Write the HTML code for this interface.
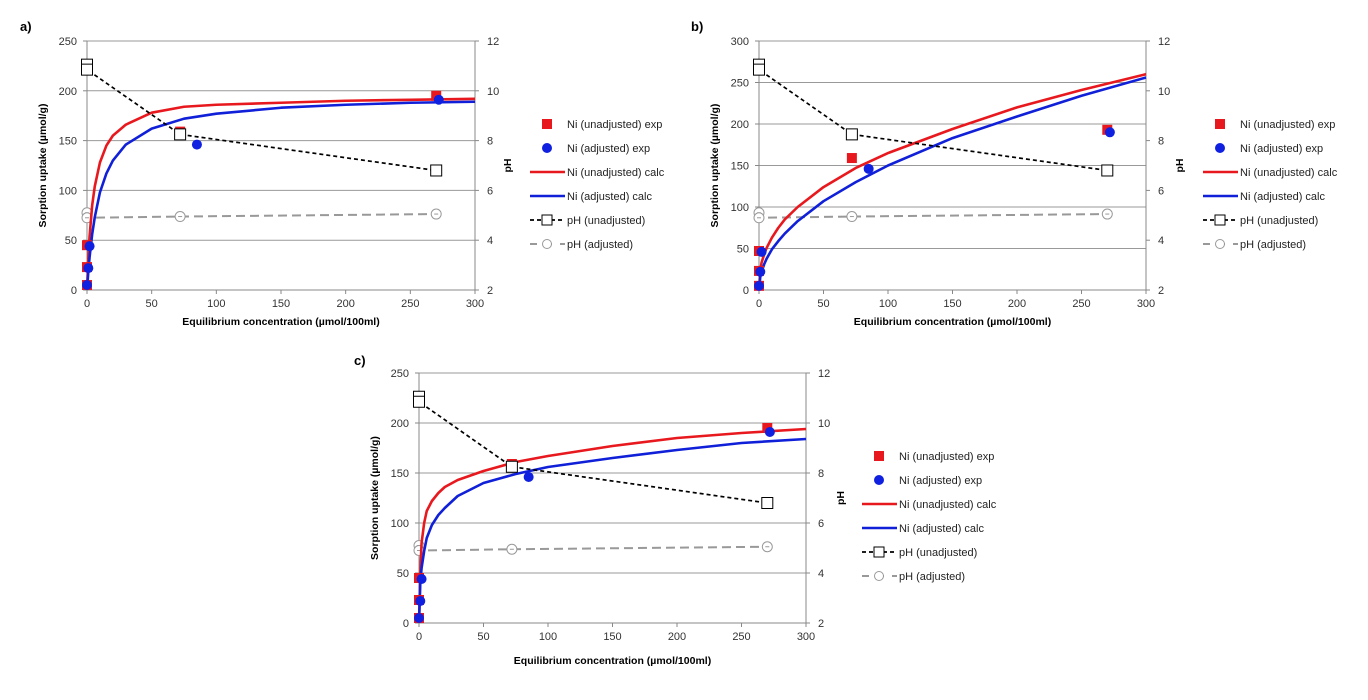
<!DOCTYPE html>
<html><head><meta charset="utf-8"><style>
html,body{margin:0;padding:0;background:#fff;}
svg{display:block;font-family:"Liberation Sans",sans-serif;}
</style></head><body>
<svg id="c" width="1368" height="700" viewBox="0 0 1368 700"></svg>
<script>
// ---- shared experimental data ----
const expUnX = [0, 0, 0, 72, 270];
const expAdX = [0, 1, 2, 85, 272];
const expUnYa = [5, 23, 45, 159, 195];
const expAdYa = [5, 22, 44, 146, 191];
const expUnYb = [5, 23, 47, 159, 193];
const expAdYb = [5, 22, 46, 146, 190];
const phUnX = [0, 0, 72, 270];
const phUnY = [11.05, 10.85, 8.25, 6.8];
const phAdX = [0, 0, 72, 270];
const phAdY = [5.1, 4.9, 4.95, 5.05];
// ---- calc curves ----
const calcX = [0, 1, 2, 4, 6, 10, 15, 20, 30, 50, 75, 100, 150, 200, 250, 300];
const calcRedA = [0, 31, 54, 85, 104, 128, 145, 155, 166, 178, 184, 186, 188, 190, 191, 192];
const calcBlueA = [0, 18, 33, 56, 73, 98, 117, 130, 146, 162, 172, 177, 183, 186, 188, 189];
const calcRedB = [0, 24, 33, 43, 51, 63, 75, 85, 100, 124, 147, 165, 194, 220, 241, 260];
const calcBlueB = [0, 16, 22, 31, 38, 49, 59, 68, 83, 107, 130, 150, 183, 209, 234, 256];
const calcRedC = [0, 50, 80, 100, 112, 122, 130, 136, 143, 152, 161, 167, 177, 185, 190, 194];
const calcBlueC = [0, 40, 55, 72, 85, 98, 108, 115, 127, 140, 149, 156, 165, 173, 180, 184];
const xTicks = [0, 50, 100, 150, 200, 250, 300];
const phTicks = [2, 4, 6, 8, 10, 12];
const legendLabels = ["Ni (unadjusted) exp", "Ni (adjusted) exp", "Ni (unadjusted) calc", "Ni (adjusted) calc", "pH (unadjusted)", "pH (adjusted)"];

const NS = "http://www.w3.org/2000/svg";
const root = document.getElementById("c");
function mk(tag, attrs, parent, txt) {
  const e = document.createElementNS(NS, tag);
  for (const k in attrs) e.setAttribute(k, attrs[k]);
  if (txt !== undefined) e.textContent = txt;
  (parent || root).appendChild(e);
  return e;
}

const panels = [
  {id:"a", label:"a)", lx:20, ly:31, x0:87, x1:475, yt:41, yb:290, ymax:250, redY:expUnYa, blueY:expAdYa, cr:calcRedA, cb:calcBlueA, legX:547, legY:124, ylabX:46, phX:511, xtY:325},
  {id:"b", label:"b)", lx:691, ly:31, x0:759, x1:1146, yt:41, yb:290, ymax:300, redY:expUnYb, blueY:expAdYb, cr:calcRedB, cb:calcBlueB, legX:1220, legY:124, ylabX:718, phX:1183, xtY:325},
  {id:"c", label:"c)", lx:354, ly:365, x0:419, x1:806, yt:373, yb:623, ymax:250, redY:expUnYa, blueY:expAdYa, cr:calcRedC, cb:calcBlueC, legX:879, legY:456, ylabX:378, phX:844, xtY:664}
];

panels.forEach(p => {
  const g = mk("g", {});
  
  
  const sx = v => p.x0 + v / 300 * (p.x1 - p.x0);
  const sy = v => p.yb - v / p.ymax * (p.yb - p.yt);
  const sp = v => p.yb - (v - 2) / 10 * (p.yb - p.yt);

  const pl = mk("text", {x:p.lx, y:p.ly, "font-size":13, "font-weight":"bold"}, g, p.label);
  
  

  for (let v = 0; v <= p.ymax; v += 50) {
    const y = sy(v);
    if (v > 0) {
      const gl = mk("line", {x1:p.x0, x2:p.x1, y1:y, y2:y, stroke:"#999", "stroke-width":1}, g);
      
      
    }
    mk("line", {x1:p.x0-4, x2:p.x0, y1:y, y2:y, stroke:"#888"}, g);
    const t = mk("text", {x:p.x0-10, y:y+4, "font-size":11, fill:"#333", "text-anchor":"end"}, g, v);
    
    
  }
  mk("line", {x1:p.x0, x2:p.x1, y1:p.yb, y2:p.yb, stroke:"#888"}, g);
  const la = mk("line", {x1:p.x0, x2:p.x0, y1:p.yt, y2:p.yb, stroke:"#888"}, g);
  
  
  const ra = mk("line", {x1:p.x1, x2:p.x1, y1:p.yt, y2:p.yb, stroke:"#888"}, g);
  
  
  phTicks.forEach(v => {
    const y = sp(v);
    mk("line", {x1:p.x1, x2:p.x1+4, y1:y, y2:y, stroke:"#888"}, g);
    const t = mk("text", {x:p.x1+12, y:y+4, "font-size":11, fill:"#333"}, g, v);
    
    
  });
  xTicks.forEach(v => {
    const x = sx(v);
    mk("line", {x1:x, x2:x, y1:p.yb, y2:p.yb+4, stroke:"#888"}, g);
    const t = mk("text", {x:x, y:p.yb+17, "font-size":11, fill:"#333", "text-anchor":"middle"}, g, v);
    
    
  });
  const cy = (p.yt + p.yb) / 2;
  const yl = mk("text", {x:p.ylabX, y:cy, "font-size":10.5, "font-weight":"bold", "text-anchor":"middle", transform:`rotate(-90 ${p.ylabX} ${cy})`}, g, "Sorption uptake (µmol/g)");
  
  
  const pt = mk("text", {x:p.phX, y:cy, "font-size":10.5, "font-weight":"bold", "text-anchor":"middle", transform:`rotate(-90 ${p.phX} ${cy})`}, g, "pH");
  
  
  const xt = mk("text", {x:(p.x0+p.x1)/2, y:p.xtY, "font-size":10.5, "font-weight":"bold", "text-anchor":"middle"}, g, "Equilibrium concentration (µmol/100ml)");
  
  

  const pa = mk("polyline", {points:phAdX.map((x,i)=>sx(x)+","+sp(phAdY[i])).join(" "), fill:"none", stroke:"#999", "stroke-width":2, "stroke-dasharray":"9,5"}, g);
  
  
  phAdX.forEach((x,i) => {
    const c = mk("circle", {cx:sx(x), cy:sp(phAdY[i]), r:5, fill:"#fff", stroke:"#999"}, g);
    
    
    mk("line", {x1:sx(x)-2, x2:sx(x)+2, y1:sp(phAdY[i]), y2:sp(phAdY[i]), stroke:"#999"}, g);
  });
  const cr = mk("polyline", {points:calcX.map((x,i)=>sx(x)+","+sy(p.cr[i])).join(" "), fill:"none", stroke:"#e8191e", "stroke-width":2.6, "stroke-linejoin":"round"}, g);
  
  
  const cb = mk("polyline", {points:calcX.map((x,i)=>sx(x)+","+sy(p.cb[i])).join(" "), fill:"none", stroke:"#1020d8", "stroke-width":2.6, "stroke-linejoin":"round"}, g);
  
  
  expUnX.forEach((x,i) => {
    const r = mk("rect", {x:sx(x)-5, y:sy(p.redY[i])-5, width:10, height:10, fill:"#e8191e"}, g);
    
    
  });
  expAdX.forEach((x,i) => {
    const c = mk("circle", {cx:sx(x), cy:sy(p.blueY[i]), r:5, fill:"#1020e0"}, g);
    
    
  });
  const pu = mk("polyline", {points:phUnX.map((x,i)=>sx(x)+","+sp(phUnY[i])).join(" "), fill:"none", stroke:"#000", "stroke-width":1.7, "stroke-dasharray":"4,3"}, g);
  
  
  phUnX.forEach((x,i) => {
    const r = mk("rect", {x:sx(x)-5.5, y:sp(phUnY[i])-5.5, width:11, height:11, fill:"#fff", stroke:"#000"}, g);
    
    
  });

  const lg = mk("g", {}, g);
  
  
  legendLabels.forEach((lab, i) => {
    const y = p.legY + i * 24;
    const mx = p.legX;
    if (i === 0) mk("rect", {x:mx-5, y:y-5, width:10, height:10, fill:"#e8191e"}, lg);
    if (i === 1) mk("circle", {cx:mx, cy:y, r:5, fill:"#1020e0"}, lg);
    if (i === 2) mk("line", {x1:mx-17, x2:mx+18, y1:y, y2:y, stroke:"#e8191e", "stroke-width":2.6}, lg);
    if (i === 3) mk("line", {x1:mx-17, x2:mx+18, y1:y, y2:y, stroke:"#1020d8", "stroke-width":2.6}, lg);
    if (i === 4) {
      mk("line", {x1:mx-17, x2:mx+18, y1:y, y2:y, stroke:"#000", "stroke-width":1.7, "stroke-dasharray":"4,3"}, lg);
      mk("rect", {x:mx-5, y:y-5, width:10, height:10, fill:"#fff", stroke:"#000"}, lg);
    }
    if (i === 5) {
      mk("line", {x1:mx-17, x2:mx+18, y1:y, y2:y, stroke:"#999", "stroke-width":2, "stroke-dasharray":"7,8"}, lg);
      mk("circle", {cx:mx, cy:y, r:4.5, fill:"#fff", stroke:"#999"}, lg);
    }
    const t = mk("text", {x:mx+20, y:y+4, "font-size":11, fill:"#222"}, lg, lab);
    
    
  });
});
</script>
</body></html>
